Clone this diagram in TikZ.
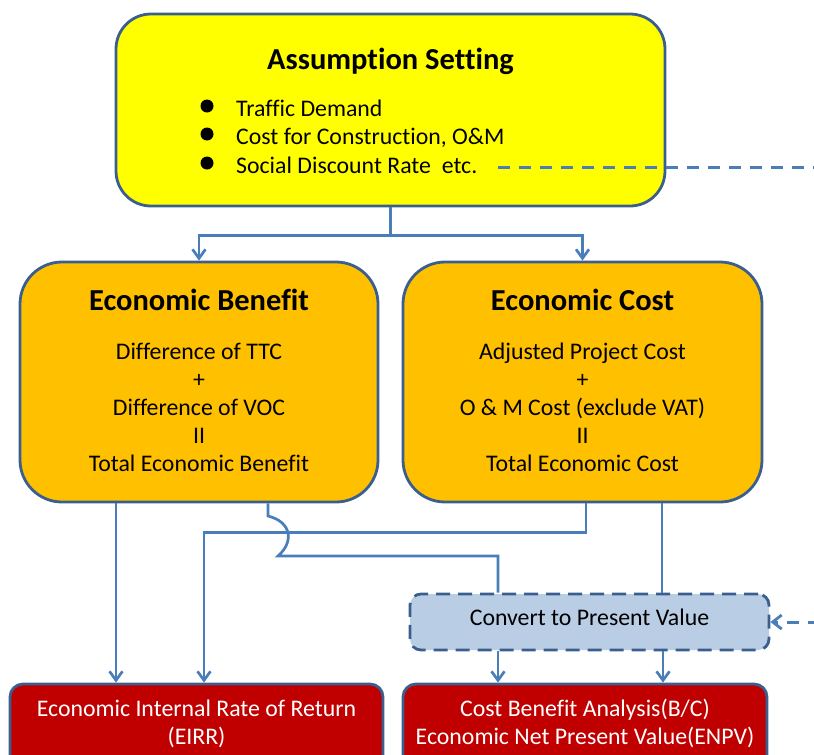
\documentclass[tikz,border=0pt]{standalone}
\usepackage{fontspec}
\setmainfont{Carlito}[Ligatures=NoCommon]
\usetikzlibrary{arrows.meta}
\definecolor{bord}{HTML}{3A5F8F}
\definecolor{conncol}{HTML}{4A7EBB}
\definecolor{yel}{HTML}{FFFF00}
\definecolor{org}{HTML}{FFC000}
\definecolor{redb}{HTML}{C00000}
\definecolor{lblue}{HTML}{B9CDE5}
\tikzset{
  box/.style={draw=bord, line width=2.8pt, inner sep=0pt, anchor=center},
  conn/.style={draw=conncol, line width=2.7pt},
  arr/.style={-{Straight Barb[length=9pt,width=13pt,line width=2.7pt]}},
  dashconn/.style={draw=conncol, line width=3pt, dash pattern=on 12pt off 9pt},
  ttl/.style={font=\fontsize{30.5}{34}\selectfont\bfseries},
  body/.style={font=\fontsize{23.8}{28}\selectfont, align=center},
  bul/.style={font=\fontsize{23.8}{28}\selectfont, anchor=west, inner sep=0pt, text height=16pt, text depth=5pt},
}
\begin{document}
\begin{tikzpicture}[x=1pt,y=-1pt]
\useasboundingbox (0,0) rectangle (814,755);
\clip (0,0) rectangle (814,755);
% boxes
\node[box, fill=yel, rounded corners=35pt, minimum width=549pt, minimum height=192pt] (as) at (390.5,110) {};
\node[box, fill=org, rounded corners=42pt, minimum width=358pt, minimum height=240pt] (eb) at (199,382) {};
\node[box, fill=org, rounded corners=42pt, minimum width=359pt, minimum height=240pt] (ec) at (582.5,382) {};
\node[box, fill=lblue, rounded corners=11pt, dash pattern=on 14pt off 8pt, minimum width=359pt, minimum height=56pt] (cv) at (589.5,622) {};
\node[box, fill=redb, rounded corners=13pt, minimum width=373pt, minimum height=84pt] (eirr) at (196.5,726) {};
\node[box, fill=redb, rounded corners=13pt, minimum width=364pt, minimum height=84pt] (cba) at (585,726) {};
% texts
\node[ttl] (astitle) at (390.5,61) {Assumption Setting};
\fill (207,106) circle (6.5pt) (207,134) circle (6.5pt) (207,163) circle (6.5pt);
\node[bul] (b1) at (236,111) {Traffic Demand};
\node[bul] (b2) at (236,139) {Cost for Construction, O\&M};
\node[bul] (b3) at (236,168) {Social Discount Rate~ etc.};
\node[ttl] (ebtitle) at (199,300) {Economic Benefit};
\node[body] (ebtext) at (199,407) {Difference of TTC\\+\\Difference of VOC\\II\\Total Economic Benefit};
\node[ttl] (ectitle) at (582.5,300) {Economic Cost};
\node[body] (ectext) at (582.5,407) {Adjusted Project Cost\\+\\O \& M Cost (exclude VAT)\\II\\Total Economic Cost};
\node[body] (cvtext) at (589.5,617) {Convert to Present Value};
\node[body, text=white] (eirrtext) at (196.5,723.5) {Economic Internal Rate of Return\\(EIRR)};
\node[body, text=white] (cbatext) at (585,723.5) {Cost Benefit Analysis(B/C)\\Economic Net Present Value(ENPV)};
% connectors
\draw[conn, arr] (as.south) -- ++(0,28) -| (eb.north);
\draw[conn, arr] (as.south) -- ++(0,28) -| (ec.north);
\draw[conn, arr] ([xshift=-83pt]eb.south) -- ([xshift=-83pt]eb.south |- eirr.north);
\draw[conn, arr] ([xshift=3.5pt]ec.south) -- ++(0,29) -| ([xshift=7.5pt]eirr.north);
\coordinate (bra) at (268,516);
\coordinate (brb) at (278,556);
\draw[conn] ([xshift=69pt]eb.south) -- (bra) .. controls (292,522) and (294,542) .. (brb) -| ([xshift=-91.5pt]cv.north);
\draw[conn] ([xshift=79.5pt]ec.south) -- ([xshift=79.5pt]ec.south |- cv.north);
\draw[conn, arr] ([xshift=-91.5pt]cv.south) -- ([xshift=-91.5pt]cv.south |- cba.north);
\draw[conn, arr] ([xshift=73.5pt]cv.south) -- ([xshift=73.5pt]cv.south |- cba.north);
\coordinate (dashend) at (820,167);
\coordinate (dashstart) at (498,167);
\draw[dashconn] (dashstart) -- (dashend);
\coordinate (dashin) at (820,622);
\draw[dashconn, -{Straight Barb[length=9pt,width=14pt,line width=2.8pt]}] (dashin) -- (cv.east);
\end{tikzpicture}
\end{document}
